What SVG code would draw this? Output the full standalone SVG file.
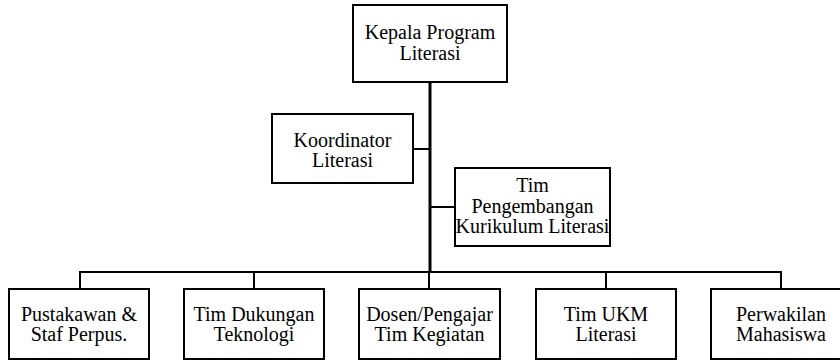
<svg xmlns="http://www.w3.org/2000/svg" width="840" height="360" viewBox="0 0 840 360">
<style>
.box{fill:#fff;stroke:#000;stroke-width:2}
.c{fill:none;stroke:#000;stroke-width:2}
.trunk{fill:none;stroke:#000;stroke-width:3}
</style>
<rect width="840" height="360" fill="#fff"/>
<g id="connectors">
<line class="trunk" x1="430" y1="82" x2="430" y2="273"/>
<line class="c" x1="413" y1="149" x2="430" y2="149"/>
<line class="c" x1="430" y1="207" x2="455" y2="207"/>
<polyline class="c" points="80,289 80,272 781,272 781,289"/>
<line class="c" x1="254" y1="272" x2="254" y2="289"/>
<line class="c" x1="429" y1="272" x2="429" y2="289"/>
<line class="c" x1="606" y1="272" x2="606" y2="289"/>
</g>
<g font-family="Liberation Serif, Times New Roman, serif" font-size="20" text-anchor="middle" fill="#000">
<g id="kepala">
<rect class="box" x="353" y="5" width="154" height="77"/>
<text x="430" y="39">Kepala Program</text>
<text x="430" y="60">Literasi</text>
</g>
<g id="koordinator">
<rect class="box" x="272" y="114" width="141" height="69"/>
<text x="342.5" y="147">Koordinator</text>
<text x="342.5" y="167">Literasi</text>
</g>
<g id="kurikulum">
<rect class="box" x="455" y="168" width="155" height="78"/>
<text x="532.5" y="192">Tim</text>
<text x="532.5" y="212.5">Pengembangan</text>
<text x="532.5" y="233">Kurikulum Literasi</text>
</g>
<g id="pustakawan">
<rect class="box" x="9" y="289" width="140" height="70"/>
<text x="79" y="321">Pustakawan &amp;</text>
<text x="79" y="341">Staf Perpus.</text>
</g>
<g id="teknologi">
<rect class="box" x="184" y="289" width="140" height="70"/>
<text x="254" y="321">Tim Dukungan</text>
<text x="254" y="341">Teknologi</text>
</g>
<g id="dosen">
<rect class="box" x="359" y="289" width="141" height="70"/>
<text x="429.5" y="321">Dosen/Pengajar</text>
<text x="429.5" y="341">Tim Kegiatan</text>
</g>
<g id="ukm">
<rect class="box" x="536" y="289" width="140" height="70"/>
<text x="606" y="321">Tim UKM</text>
<text x="606" y="341">Literasi</text>
</g>
<g id="mahasiswa">
<rect class="box" x="711" y="289" width="140" height="70"/>
<text x="781" y="321">Perwakilan</text>
<text x="781" y="341">Mahasiswa</text>
</g>
</g>
</svg>
